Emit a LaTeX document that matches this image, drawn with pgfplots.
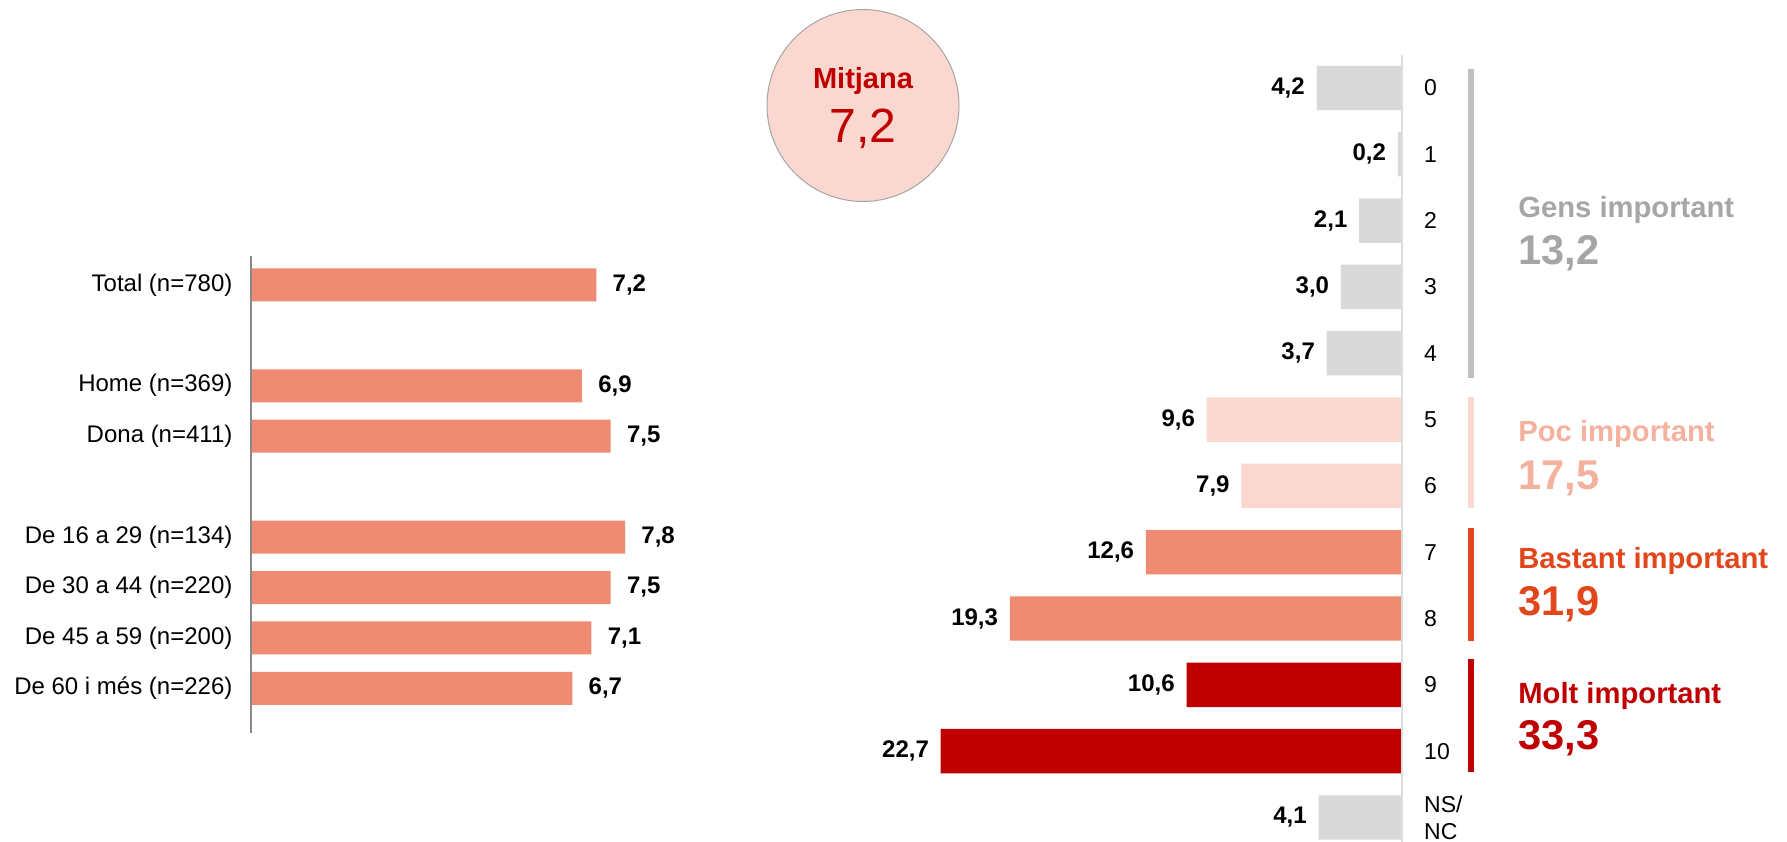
\documentclass[border=0pt]{standalone}
\usepackage{fontspec}
\setmainfont{Liberation Sans}
\usepackage{pgfplots}
\pgfplotsset{compat=1.18}
\definecolor{barsalmon}{HTML}{F08B73}
\definecolor{bargray}{HTML}{D9D9D9}
\definecolor{barpink}{HTML}{FAD7CF}
\definecolor{darkred}{HTML}{C00000}
\definecolor{orangered}{HTML}{E2471C}
\definecolor{pocsalmon}{HTML}{F4B19E}
\definecolor{gensgray}{HTML}{A6A6A6}
\definecolor{bracketgray}{HTML}{BFBFBF}
\definecolor{spinegray}{HTML}{898989}
\definecolor{spinelight}{HTML}{DDDDDD}
\begin{document}
\begin{tikzpicture}
\path[use as bounding box] (0,0) rectangle (893.5pt,420.5pt);
% circle
\draw[fill=barpink, draw=gray!70, line width=0.5pt] (431.5pt,367.75pt) circle (48pt);
\node[text=darkred, font=\bfseries\fontsize{14.5}{16}\selectfont, inner sep=0pt] at (431.5pt,379.8pt) {Mitjana};
\node[text=darkred, font=\fontsize{24}{28}\selectfont, inner sep=0pt] at (431.5pt,356.2pt) {7,2};
% left chart
\begin{axis}[
 at={(125.4pt,292.3pt)}, anchor=north west,
 scale only axis, width=239.9pt, height=238.2pt,
 xmin=0, xmax=10, ymin=-0.565, ymax=8.88, y dir=reverse,
 xbar, bar width=16.5pt, bar shift=0pt,
 axis line style={draw=none},
 xtick=\empty,
 ytick={0,2,3,5,6,7,8},
 yticklabels={Total (n=780), Home (n=369), Dona (n=411), De 16 a 29 (n=134), De 30 a 44 (n=220), De 45 a 59 (n=200), De 60 i més (n=226)},
 major tick length=0pt,
 y tick label style={font=\fontsize{12}{14}\selectfont, inner sep=0pt, xshift=-9pt},
 nodes near coords={\pgfplotspointmeta}, point meta=explicit symbolic,
 nodes near coords style={font=\bfseries\fontsize{12}{14}\selectfont, inner sep=0pt, anchor=west, xshift=8pt},
 clip=false,
]
\addplot[fill=barsalmon, draw=none] table[x=v, y=y, meta=l] {
y v l
0 7.2 7,2
2 6.9 6,9
3 7.5 7,5
5 7.8 7,8
6 7.5 7,5
7 7.1 7,1
8 6.7 6,7
};
\draw[spinegray, line width=1pt] (axis cs:0,-0.565) -- (axis cs:0,8.88);
\end{axis}
% right chart
\begin{axis}[
 at={(700.9pt,393.1pt)}, anchor=north east,
 scale only axis, width=253.9pt, height=394.6pt,
 xmin=0, xmax=25, x dir=reverse, ymin=-0.5, ymax=11.4, y dir=reverse,
 xbar, bar width=22.2pt, bar shift=0pt,
 axis line style={draw=none},
 xtick=\empty,
 ytick={0,1,2,3,4,5,6,7,8,9,10,11},
 yticklabels={0,1,2,3,4,5,6,7,8,9,10,{NS/\\NC}},
 yticklabel pos=right,
 major tick length=0pt,
 y tick label style={font=\fontsize{11.5}{13.3}\selectfont, inner sep=0pt, align=left, xshift=11pt},
 nodes near coords={\pgfplotspointmeta}, point meta=explicit symbolic,
 nodes near coords style={font=\bfseries\fontsize{12}{14}\selectfont, inner sep=0pt, anchor=east, xshift=-5.7pt},
 clip=false,
]
\addplot[fill=bargray, draw=none] table[x=v, y=y, meta=l] {
y v l
0 4.2 4,2
1 0.2 0,2
2 2.1 2,1
3 3.0 3,0
4 3.7 3,7
11 4.1 4,1
};
\addplot[fill=barpink, draw=none] table[x=v, y=y, meta=l] {
y v l
5 9.6 9,6
6 7.9 7,9
};
\addplot[fill=barsalmon, draw=none] table[x=v, y=y, meta=l] {
y v l
7 12.6 12,6
8 19.3 19,3
};
\addplot[fill=darkred, draw=none] table[x=v, y=y, meta=l] {
y v l
9 10.6 10,6
10 22.7 22,7
};
\draw[spinelight, line width=1pt] (axis cs:0,-0.5) -- (axis cs:0,11.4);
\draw[bracketgray, line width=3pt] (axis cs:-3.43,-0.29) -- (axis cs:-3.43,4.38);
\draw[barpink, line width=3pt] (axis cs:-3.43,4.66) -- (axis cs:-3.43,6.33);
\draw[orangered, line width=3pt] (axis cs:-3.43,6.63) -- (axis cs:-3.43,8.34);
\draw[darkred, line width=3pt] (axis cs:-3.43,8.61) -- (axis cs:-3.43,10.31);
\node[anchor=west, inner sep=0pt, text=gensgray, font=\bfseries\fontsize{14.6}{16}\selectfont] at (axis cs:-5.72,1.84) {Gens important};
\node[anchor=west, inner sep=0pt, text=gensgray, font=\bfseries\fontsize{20.8}{24}\selectfont] at (axis cs:-5.72,2.49) {13,2};
\node[anchor=west, inner sep=0pt, text=pocsalmon, font=\bfseries\fontsize{14.6}{16}\selectfont] at (axis cs:-5.72,5.22) {Poc important};
\node[anchor=west, inner sep=0pt, text=pocsalmon, font=\bfseries\fontsize{20.8}{24}\selectfont] at (axis cs:-5.72,5.88) {17,5};
\node[anchor=west, inner sep=0pt, text=orangered, font=\bfseries\fontsize{14.6}{16}\selectfont] at (axis cs:-5.72,7.13) {Bastant important};
\node[anchor=west, inner sep=0pt, text=orangered, font=\bfseries\fontsize{20.8}{24}\selectfont] at (axis cs:-5.72,7.79) {31,9};
\node[anchor=west, inner sep=0pt, text=darkred, font=\bfseries\fontsize{14.6}{16}\selectfont] at (axis cs:-5.72,9.16) {Molt important};
\node[anchor=west, inner sep=0pt, text=darkred, font=\bfseries\fontsize{20.8}{24}\selectfont] at (axis cs:-5.72,9.81) {33,3};
\end{axis}
\end{tikzpicture}
\end{document}
